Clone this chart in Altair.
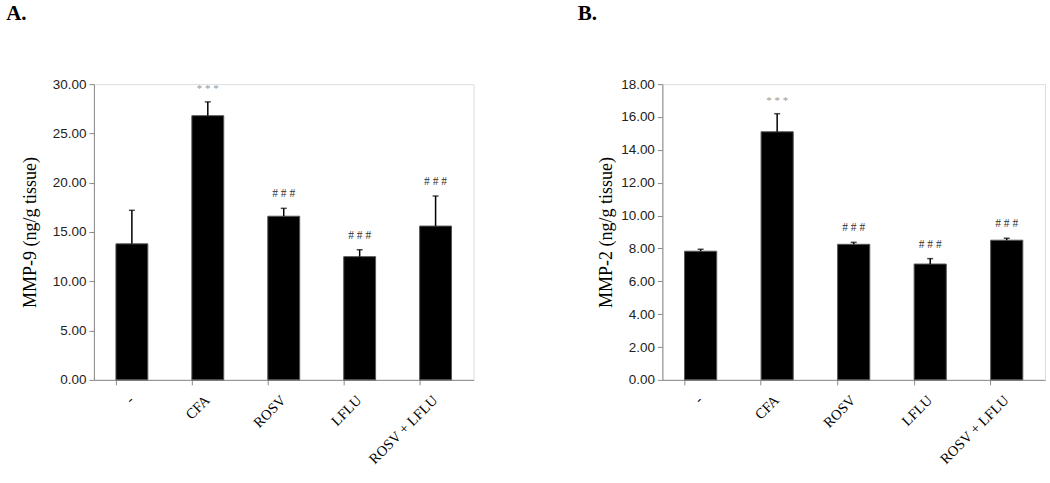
import altair as alt
import pandas as pd

# Treatment groups shared by both panels
groups = ["-", "CFA", "ROSV", "LFLU", "ROSV + LFLU"]

# Panel A: MMP-9 (ng/g tissue), mean and SD per group
mmp9_mean = [13.8, 26.8, 16.6, 12.5, 15.6]
mmp9_sd = [3.4, 1.4, 0.8, 0.7, 3.05]

# Panel B: MMP-2 (ng/g tissue), mean and SD per group
mmp2_mean = [7.83, 15.1, 8.25, 7.05, 8.5]
mmp2_sd = [0.12, 1.1, 0.12, 0.33, 0.12]

# Significance marks: *** vs control, ### vs CFA
stars = ["", "* * *", "", "", ""]
hashes = ["", "", "# # #", "# # #", "# # #"]

SERIF = "Liberation Serif"
SANS = "Liberation Sans"
AXIS_GREY = "#8a8a8a"


def panel(mean, sd, title_txt, letter, ymax, ystep, letter_dx, title_pad, width):
    df = pd.DataFrame({
        "group": groups,
        "mean": mean,
        "top": [m + s for m, s in zip(mean, sd)],
        "stars": stars,
        "hashes": hashes,
    })
    x = alt.X(
        "group:N",
        sort=groups,
        scale=alt.Scale(paddingInner=0.58, paddingOuter=0.29),
        axis=alt.Axis(
            title=None,
            labelAngle=-45,
            labelAlign="right",
            labelBaseline="middle",
            labelFont=SERIF,
            labelFontSize=14.5,
            labelColor="#000",
            labelPadding=13,
            labelOverlap=False,
            bandPosition=0,
            tickColor=AXIS_GREY,
            tickSize=5,
            domainColor=AXIS_GREY,
        ),
    )
    yscale = alt.Scale(domain=[0, ymax], nice=False)
    yaxis = alt.Axis(
        title=title_txt,
        titleFont=SERIF,
        titleFontSize=18,
        titleFontWeight="normal",
        titleColor="#000",
        titlePadding=title_pad,
        values=[i * ystep for i in range(int(round(ymax / ystep)) + 1)],
        format=".2f",
        labelFont=SANS,
        labelFontSize=13.5,
        labelColor="#222",
        labelPadding=3,
        labelOverlap=False,
        tickColor=AXIS_GREY,
        tickSize=5,
        domainColor=AXIS_GREY,
        grid=False,
    )

    def y(field):
        return alt.Y(field, scale=yscale, axis=yaxis)

    base = alt.Chart(df).encode(x=x)
    bars = base.mark_bar(color="#000", stroke="#555", strokeWidth=1).encode(
        y=y("mean:Q")
    )
    err = base.mark_rule(color="#000", strokeWidth=1.5).encode(
        y=y("mean:Q"), y2="top:Q"
    )
    cap = base.mark_tick(color="#000", size=6, thickness=1.5, orient="horizontal").encode(
        y=y("top:Q")
    )
    star_txt = base.mark_text(
        font=SERIF, fontSize=11, fill="#9a9a9a", baseline="middle", dy=-13
    ).encode(y=y("top:Q"), text="stars:N")
    hash_txt = base.mark_text(
        font=SERIF, fontSize=11.5, fill="#333333", baseline="middle", dy=-14
    ).encode(y=y("top:Q"), text="hashes:N")
    return alt.layer(bars, err, cap, star_txt, hash_txt).properties(
        width=width,
        height=296,
        title=alt.TitleParams(
            text=letter,
            anchor="start",
            frame="bounds",
            font=SERIF,
            fontSize=21,
            fontWeight="bold",
            color="#000",
            offset=53,
            dx=letter_dx,
        ),
    )


chart_a = panel(mmp9_mean, mmp9_sd, "MMP-9 (ng/g tissue)", "A.", 30, 5, -15, 13, 380)
chart_b = panel(mmp2_mean, mmp2_sd, "MMP-2 (ng/g tissue)", "B.", 18, 2, -20, 5, 383)

chart = (
    alt.hconcat(chart_a, chart_b, spacing=102)
    .properties(padding={"left": 5, "top": 2, "right": 4, "bottom": 4})
    .configure_view(stroke=None)
    .configure(background="white")
)

chart.save("out.html", embed_options={"renderer": "svg", "actions": False})
